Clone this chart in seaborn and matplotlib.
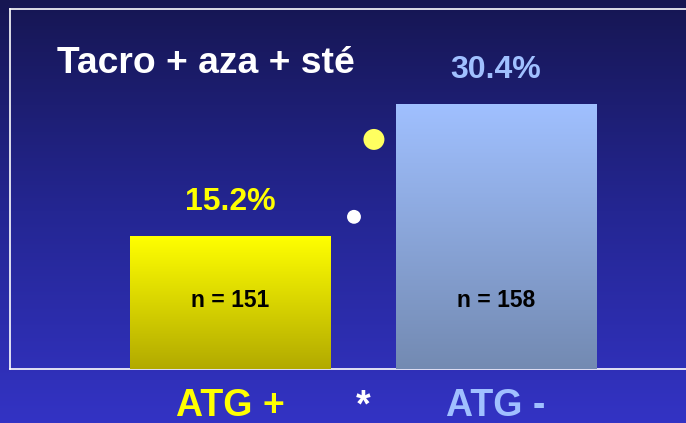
import numpy as np
import pandas as pd
import matplotlib
matplotlib.use("Agg")
import matplotlib.pyplot as plt
from matplotlib.colors import LinearSegmentedColormap
import seaborn as sns

# Data
groups = ["ATG +", "ATG -"]
rates = [15.2, 30.4]            # percentage per group
counts = [151, 158]             # patients per group
rate_labels = ["15.2%", "30.4%"]
title_text = "Tacro + aza + sté"

sns.set_theme(style="white")
plt.rcParams["font.family"] = ["Liberation Sans", "DejaVu Sans"]
plt.rcParams["font.weight"] = "bold"

W, H = 686, 423
fig = plt.figure(figsize=(W / 100, H / 100), dpi=100)

# Slide background: vertical navy-to-blue gradient
bg = fig.add_axes([0, 0, 1, 1], zorder=0)
bg_cmap = LinearSegmentedColormap.from_list(
    "bg", [(22 / 255, 22 / 255, 82 / 255), (36 / 255, 38 / 255, 146 / 255),
           (51 / 255, 51 / 255, 196 / 255)])
bg.imshow(np.linspace(0, 1, 256).reshape(-1, 1), cmap=bg_cmap, aspect="auto",
          extent=[0, 1, 0, 1], origin="upper")
bg.set_axis_off()

# Plot area (framed region)
left_px, right_px, top_px, bottom_px = 10, 686, 9, 369
ax = fig.add_axes([left_px / W, (H - bottom_px) / H,
                   (right_px - left_px) / W, (bottom_px - top_px) / H], zorder=1)
ax.patch.set_alpha(0)

df = pd.DataFrame({"group": groups, "rate": rates})
bar_colors = ["#ffff00", "#a0c0ff"]
sns.barplot(data=df, x="group", y="rate", hue="group", palette=bar_colors,
            width=0.752, legend=False, ax=ax, zorder=3)

# Vertical colour gradients painted inside each bar
grad_pairs = [((1.0, 1.0, 0.0), (178 / 255, 170 / 255, 0.0)),
              ((160 / 255, 192 / 255, 1.0), (115 / 255, 138 / 255, 178 / 255))]
for patch, (top_c, bot_c) in zip(ax.patches, grad_pairs):
    x0, w, h = patch.get_x(), patch.get_width(), patch.get_height()
    cm = LinearSegmentedColormap.from_list("g", [bot_c, top_c])
    ax.imshow(np.linspace(0, 1, 256).reshape(-1, 1), cmap=cm, aspect="auto",
              extent=[x0, x0 + w, 0, h], origin="lower", zorder=3)
    patch.set_alpha(0)

ax.set_xlim(-0.827, 1.714)
ax.set_ylim(0, 41.4)

# Frame
for side in ["top", "left", "bottom"]:
    ax.spines[side].set_visible(True)
    ax.spines[side].set_color("white")
    ax.spines[side].set_linewidth(1.2)
    ax.spines[side].set_zorder(2)
ax.spines["right"].set_visible(False)
ax.set_xticks([])
ax.set_yticks([])
ax.set_xlabel("")
ax.set_ylabel("")

label_colors = ["#ffff00", "#a0c0ff"]
for i, patch in enumerate(ax.patches):
    cx = patch.get_x() + patch.get_width() / 2
    h = patch.get_height()
    ax.annotate(rate_labels[i], (cx, h), xytext=(0, 19), textcoords="offset points",
                ha="center", va="baseline", fontsize=23, fontweight="bold",
                color=label_colors[i], zorder=5)
    ax.text(cx, 7.1, f"n = {counts[i]}", ha="center", va="baseline",
            fontsize=16.5, fontweight="bold", color="black", zorder=5)
    ax.text(cx, -5.45, groups[i], ha="center", va="baseline", fontsize=27,
            fontweight="bold", color=label_colors[i], clip_on=False, zorder=5)

# Significance marker between the groups
ax.text(0.5, -5.45, "*", ha="center", va="baseline", fontsize=27,
        fontweight="bold", color="white", clip_on=False, zorder=5)

# Decorative dots
ax.scatter([0.541], [26.4], s=228, color="#ffff60", edgecolors="none", zorder=5)
ax.scatter([0.466], [17.5], s=100, color="white", edgecolors="none", zorder=5)

fig.text(206 / W, 1 - 73.3 / H, title_text, ha="center", va="baseline",
         fontsize=26.8, fontweight="bold", color="white", zorder=5)

fig.savefig("out.png", dpi=100)
